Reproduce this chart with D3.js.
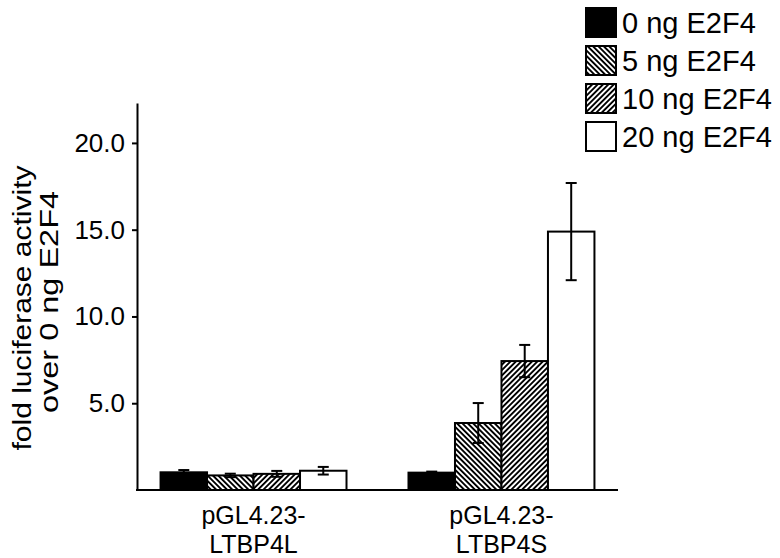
<!DOCTYPE html>
<html>
  <head>
    <script type="text/javascript" src="https://cdn.jsdelivr.net/npm/d3@7"></script>
    <style type="text/css">

html, body {
  margin: 0;
  background: #fff;
}

svg {
  display: block;
  font-family: "Liberation Sans", Arial, sans-serif;
}

    </style>
  </head>
  <body>
    <div id="chart"></div>
    <script type="text/javascript">

// Data
var groups = [["pGL4.23-", "LTBP4L"], ["pGL4.23-", "LTBP4S"]];
var series = ["0 ng E2F4", "5 ng E2F4", "10 ng E2F4", "20 ng E2F4"];
var valuesL = [1.02, 0.84, 0.93, 1.11];
var errorsL = [0.13, 0.1, 0.17, 0.22];
var valuesS = [1.0, 3.86, 7.43, 14.89];
var errorsS = [0.06, 1.15, 0.93, 2.8];
var yTicks = [5, 10, 15, 20];

var values = [valuesL, valuesS];
var errors = [errorsL, errorsS];

var width = 780, height = 558;

var svg = d3.select("#chart").append("svg")
    .attr("width", width)
    .attr("height", height);

// Hatch patterns
var defs = svg.append("defs");
function hatch(id, angle) {
  var p = defs.append("pattern")
      .attr("id", id)
      .attr("patternUnits", "userSpaceOnUse")
      .attr("width", 3.8)
      .attr("height", 3.8)
      .attr("patternTransform", "rotate(" + angle + ")");
  p.append("rect").attr("width", 3.8).attr("height", 3.8).attr("fill", "#fff");
  p.append("rect").attr("width", 1.9).attr("height", 3.8).attr("fill", "#000");
}
hatch("back", -45);
hatch("fwd", 45);

var fills = ["#000", "url(#back)", "url(#fwd)", "#fff"];

var x0 = d3.scaleBand()
    .domain(d3.range(groups.length))
    .range([137, 618])
    .paddingInner(0.25)
    .paddingOuter(0.095);

var x1 = d3.scaleBand()
    .domain(d3.range(series.length))
    .range([0, x0.bandwidth()]);

var y = d3.scaleLinear()
    .domain([0, 22.3])
    .range([490, 103]);

// Bars
var g = svg.selectAll("g.group")
    .data(groups)
  .enter().append("g")
    .attr("class", "group")
    .attr("transform", function(d, i) { return "translate(" + x0(i) + ",0)"; });

function rows(d, i) {
  return values[i].map(function(v, j) { return {v: v, e: errors[i][j], j: j}; });
}

g.selectAll("rect")
    .data(rows)
  .enter().append("rect")
    .attr("x", function(d) { return x1(d.j); })
    .attr("width", x1.bandwidth())
    .attr("y", function(d) { return y(d.v); })
    .attr("height", function(d) { return y(0) - y(d.v); })
    .attr("fill", function(d) { return fills[d.j]; })
    .attr("stroke", "#000")
    .attr("stroke-width", 2);

// Error bars
var eb = g.selectAll("g.err")
    .data(rows)
  .enter().append("g")
    .attr("class", "err")
    .attr("stroke", "#000")
    .attr("stroke-width", 2);

eb.append("line")
    .attr("x1", function(d) { return x1(d.j) + x1.bandwidth() / 2; })
    .attr("x2", function(d) { return x1(d.j) + x1.bandwidth() / 2; })
    .attr("y1", function(d) { return y(d.v + d.e); })
    .attr("y2", function(d) { return y(d.v - d.e); });

[1, -1].forEach(function(s) {
  eb.append("line")
      .attr("x1", function(d) { return x1(d.j) + x1.bandwidth() / 2 - 5.5; })
      .attr("x2", function(d) { return x1(d.j) + x1.bandwidth() / 2 + 5.5; })
      .attr("y1", function(d) { return y(d.v + s * d.e); })
      .attr("y2", function(d) { return y(d.v + s * d.e); });
});

// Axes
var yAxis = svg.append("g")
    .attr("transform", "translate(137,0)")
    .call(d3.axisLeft(y)
      .tickValues(yTicks)
      .tickFormat(d3.format(".1f"))
      .tickSize(5)
      .tickSizeOuter(0)
      .tickPadding(7));

yAxis.selectAll("path, line").attr("stroke", "#000").attr("stroke-width", 2);
yAxis.selectAll("text")
    .attr("fill", "#000")
    .style("font-size", "26px")
    .style("font-family", "'Liberation Sans', Arial, sans-serif");

svg.append("line")
    .attr("x1", 136)
    .attr("x2", 618)
    .attr("y1", y(0))
    .attr("y2", y(0))
    .attr("stroke", "#000")
    .attr("stroke-width", 2);

// Category labels (two lines each)
[0, 1].forEach(function(k) {
  svg.selectAll("text.cat" + k)
      .data(groups)
    .enter().append("text")
      .attr("class", "cat" + k)
      .attr("text-anchor", "middle")
      .attr("x", function(d, i) { return x0(i) + x0.bandwidth() / 2; })
      .attr("y", k ? 553 : 524)
      .style("font-size", "25px")
      .text(function(d) { return d[k]; });
});

// Y label
svg.append("text")
    .attr("transform", "translate(31,308) rotate(-90)")
    .attr("text-anchor", "middle")
    .attr("textLength", 285)
    .attr("lengthAdjust", "spacingAndGlyphs")
    .style("font-size", "25px")
    .text("fold luciferase activity");

svg.append("text")
    .attr("transform", "translate(58,302) rotate(-90)")
    .attr("text-anchor", "middle")
    .attr("textLength", 222)
    .attr("lengthAdjust", "spacingAndGlyphs")
    .style("font-size", "25px")
    .text("over 0 ng E2F4");

// Legend
var leg = svg.selectAll("g.legend")
    .data(series)
  .enter().append("g")
    .attr("class", "legend")
    .attr("transform", function(d, i) { return "translate(586," + (8 + i * 38) + ")"; });

leg.append("rect")
    .attr("width", 30)
    .attr("height", 29)
    .attr("fill", function(d, i) { return fills[i]; })
    .attr("stroke", "#000")
    .attr("stroke-width", 2);

leg.append("text")
    .attr("x", 36)
    .attr("y", 25)
    .style("font-size", "29px")
    .text(function(d) { return d; });

    </script>
  </body>
</html>
